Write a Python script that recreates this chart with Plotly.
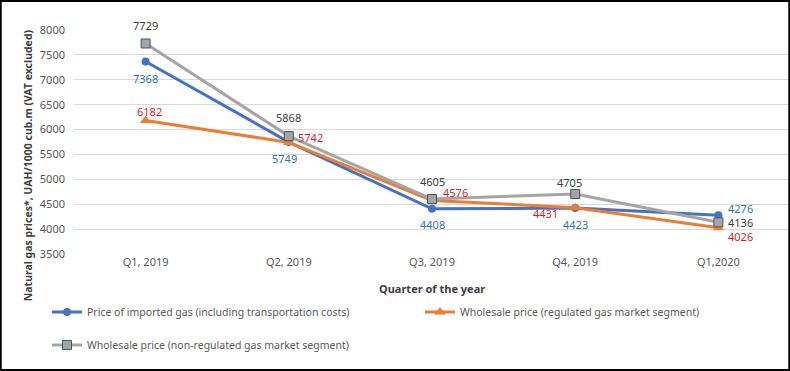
import plotly.graph_objects as go

quarters = ["Q1, 2019", "Q2, 2019", "Q3, 2019", "Q4, 2019", "Q1,2020"]
imported = [7368, 5749, 4408, 4423, 4276]
regulated = [6182, 5742, 4576, 4431, 4026]
non_regulated = [7729, 5868, 4605, 4705, 4136]

names = [
    "Price of imported gas (including transportation costs)",
    "Wholesale price (regulated gas market segment)",
    "Wholesale price (non-regulated gas market segment)",
]

FONT = "Noto Sans"
BLUE, ORANGE, GRAY = "#4472C4", "#ED7D31", "#A5A5A5"

fig = go.Figure()
fig.add_trace(go.Scatter(x=quarters, y=imported, name=names[0], mode="lines+markers",
                         line=dict(color=BLUE, width=3),
                         marker=dict(symbol="circle", size=8, color=BLUE),
                         legend="legend"))
fig.add_trace(go.Scatter(x=quarters, y=regulated, name=names[1], mode="lines+markers",
                         line=dict(color=ORANGE, width=3),
                         marker=dict(symbol="triangle-up", size=10, color=ORANGE),
                         legend="legend"))
fig.add_trace(go.Scatter(x=quarters, y=non_regulated, name=names[2], mode="lines+markers",
                         line=dict(color=GRAY, width=3),
                         marker=dict(symbol="square", size=9, color=GRAY,
                                     line=dict(color="#44546A", width=1)),
                         legend="legend2"))

# label offsets (style only): (xshift, yshift) per point
off_imp = [(0, -17), (-4, -16), (0, -16), (0, -16), (22, 7)]
off_reg = [(4, 9), (22, 5), (23, 8), (-30, -6), (22, -9)]
off_non = [(0, 18), (0, 19), (0, 18), (-6, 12), (22, 0)]

ann = []
for vals, offs, col in [(imported, off_imp, "#2E75B6"),
                        (regulated, off_reg, "#E3191F"),
                        (non_regulated, off_non, "#404040")]:
    for q, v, (dx, dy) in zip(quarters, vals, offs):
        ann.append(dict(x=q, y=v, text=str(v), showarrow=False, xshift=dx, yshift=dy,
                        font=dict(family=FONT, size=11, color=col)))

ann.append(dict(xref="paper", yref="paper", x=0.5, y=-0.152, yanchor="middle",
                text="<b>Quarter of the year</b>", showarrow=False,
                font=dict(family=FONT, size=11, color="#404040")))
ann.append(dict(xref="paper", yref="paper", x=-0.064, y=0.397, textangle=-90,
                xanchor="center", yanchor="middle",
                text="<b>Natural gas prices*, UAH/1000 cub.m (VAT excluded)</b>", showarrow=False,
                font=dict(family=FONT, size=10.5, color="#404040")))

fig.update_layout(
    width=790, height=371,
    margin=dict(l=74, r=0, t=30, b=117, autoexpand=False),
    paper_bgcolor="white", plot_bgcolor="white",
    font=dict(family=FONT, size=11, color="#595959"),
    xaxis=dict(type="category", range=[-0.5, 4.5], showgrid=False, showline=False,
               zeroline=False, ticks="", tickfont=dict(size=11, color="#595959")),
    yaxis=dict(range=[3500, 8000], dtick=500, showgrid=True, gridcolor="#D9D9D9",
               gridwidth=1, zeroline=False, showline=False, ticks="",
               ticklabelstandoff=8, tickfont=dict(size=11, color="#595959")),
    legend=dict(orientation="h", x=-0.0377, y=-0.259, xanchor="left", yanchor="middle",
                entrywidth=328, entrywidthmode="pixels",
                font=dict(size=10.5, color="#595959"), bgcolor="rgba(0,0,0,0)"),
    legend2=dict(orientation="h", x=-0.0377, y=-0.406, xanchor="left", yanchor="middle",
                 font=dict(size=10.5, color="#595959"), bgcolor="rgba(0,0,0,0)"),
    annotations=ann,
    shapes=[dict(type="rect", xref="paper", yref="paper",
                 x0=-74 / 716 + 0.001, x1=1 - 0.001, y0=-117 / 224 + 0.004, y1=1 + 30 / 224 - 0.004,
                 line=dict(color="black", width=2), layer="above")],
)

fig.write_html("out.html", config={"displayModeBar": False},
               post_script="document.body.style.margin='0';")
